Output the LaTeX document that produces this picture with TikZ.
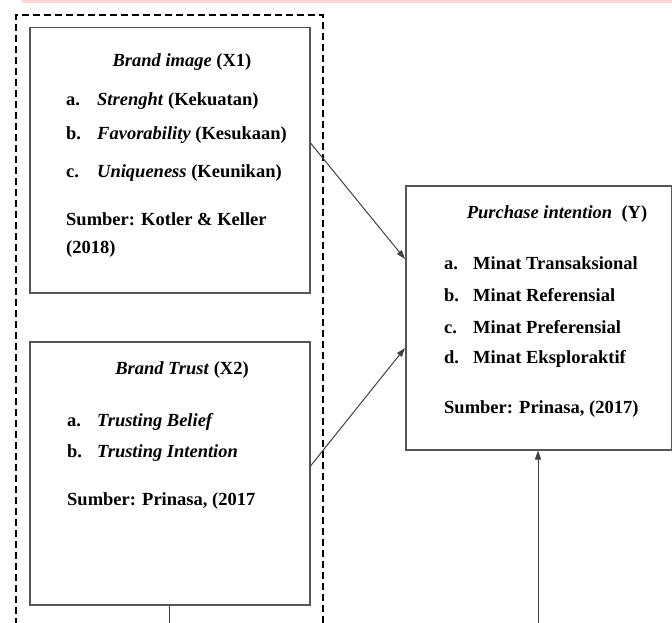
\documentclass[tikz,border=0pt]{standalone}
\usepackage{fontspec}
\setmainfont{Liberation Serif}
\usetikzlibrary{arrows.meta}
\definecolor{boxgray}{HTML}{555555}
\definecolor{bandpink}{HTML}{F9D6DA}
\tikzset{
  varbox/.style={draw=boxgray, line width=1.5pt},
  grpbox/.style={draw=black, line width=2.2pt, dash pattern=on 7pt off 4pt},
  conn/.style={draw=black!75, line width=1pt},
  arr/.style={conn, -{Triangle[length=9pt,width=6pt]}},
  txt/.style={font=\fontsize{18.5}{20}\selectfont\bfseries, inner sep=0pt, anchor=base west},
  ttl/.style={font=\fontsize{18.5}{20}\selectfont\bfseries, inner sep=0pt, anchor=base},
}
\begin{document}
\begin{tikzpicture}[x=1pt,y=-1pt]
\useasboundingbox (0,0) rectangle (672,623);
\fill[bandpink] (22,0) rectangle (672,3);
% group dashed box
\draw[grpbox] (16,625) -- (16,15) -- (323,15) -- (323,625);
% boxes
\node[varbox, minimum width=280pt, minimum height=265pt, anchor=north west, inner sep=0pt] (x1) at (29,27) {};
\node[varbox, minimum width=280pt, minimum height=263pt, anchor=north west, inner sep=0pt] (x2) at (29,341) {};
\node[varbox, minimum width=266pt, minimum height=264pt, anchor=north west, inner sep=0pt] (y) at (405,185) {};
% X1 texts
\node[ttl] (t1) at (182,67) {\textit{Brand image} (X1)};
\node[txt] (a1) at (66,106) {a.};
\node[txt] (a1t) at (97,106) {\textit{Strenght} (Kekuatan)};
\node[txt] (b1) at (66,140) {b.};
\node[txt] (b1t) at (97,140) {\textit{Favorability} (Kesukaan)};
\node[txt] (c1) at (66,177) {c.};
\node[txt] (c1t) at (97,177) {\textit{Uniqueness} (Keunikan)};
\node[txt] (s1) at (66,225) {Sumber: Kotler \& Keller};
\node[txt] (s1b) at (66,253) {(2018)};
% X2 texts
\node[ttl] (t2) at (182,374) {\textit{Brand Trust} (X2)};
\node[txt] (a2) at (67,426) {a.};
\node[txt] (a2t) at (97,426) {\textit{Trusting Belief}};
\node[txt] (b2) at (67,457) {b.};
\node[txt] (b2t) at (97,457) {\textit{Trusting Intention}};
\node[txt] (s2) at (67,505) {Sumber: Prinasa, (2017};
% Y texts
\node[ttl] (t3) at (557,218) {\textit{Purchase intention}\ \ (Y)};
\node[txt] (a3) at (444,269) {a.};
\node[txt] (a3t) at (473,269) {Minat Transaksional};
\node[txt] (b3) at (444,301) {b.};
\node[txt] (b3t) at (473,301) {Minat Referensial};
\node[txt] (c3) at (444,333) {c.};
\node[txt] (c3t) at (473,333) {Minat Preferensial};
\node[txt] (d3) at (444,363) {d.};
\node[txt] (d3t) at (473,363) {Minat Eksploraktif};
\node[txt] (s3) at (444,413) {Sumber: Prinasa, (2017)};
% connectors
\coordinate (p1) at (x1.east |- 0,143);
\coordinate (q1) at (y.west |- 0,259);
\draw[arr] (p1) -- (q1);
\coordinate (p2) at (x2.east |- 0,466);
\coordinate (q2) at (y.west |- 0,348);
\draw[arr] (p2) -- (q2);
\coordinate (bot1) at (x2.south |- 0,625);
\draw[conn] (x2.south) -- (bot1);
\coordinate (bot2) at (538,625);
\draw[arr] (bot2) -- (y.south -| bot2);
\end{tikzpicture}
\end{document}
